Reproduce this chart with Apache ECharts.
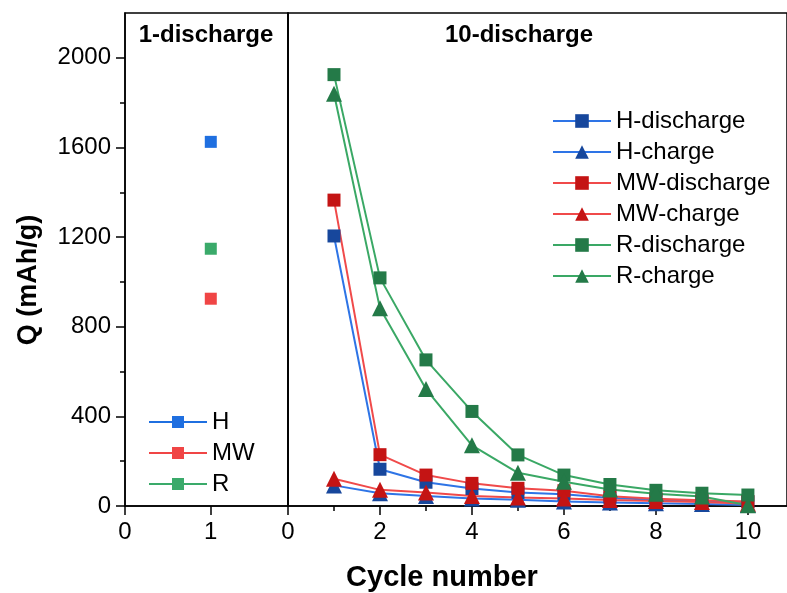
<!DOCTYPE html>
<html>
<head>
<meta charset="utf-8">
<script src="https://cdn.jsdelivr.net/npm/echarts@6/dist/echarts.min.js"></script>
<style>
  html, body { margin: 0; padding: 0; background: #fff; }
  #panel { width: 787px; height: 593px; }
</style>
</head>
<body>
<div id="panel"></div>
<script>
// first discharge (left panel), single point at cycle 1
var firstNames = ['H', 'MW', 'R'];
var firstValues = [1625, 925, 1148];

// 10 cycles (right panel)
var cycles = [1, 2, 3, 4, 5, 6, 7, 8, 9, 10];
var hDischarge  = [1205, 164, 106, 78, 60, 52, 36, 28, 20, 18];
var hCharge     = [92, 57, 45, 34, 28, 20, 16, 12, 9, 5];
var mwDischarge = [1365, 229, 138, 101, 79, 68, 44, 32, 26, 20];
var mwCharge    = [122, 72, 60, 45, 38, 33, 27, 22, 18, 10];
var rDischarge  = [1925, 1018, 652, 422, 228, 138, 96, 70, 57, 49];
var rCharge     = [1840, 882, 522, 271, 148, 108, 74, 55, 42, 3];

var yTicks = [0, 400, 800, 1200, 1600, 2000];
var yMinor = [200, 600, 1000, 1400, 1800];
var leftTicks = [0, 1];
var rightTicks = [0, 2, 4, 6, 8, 10];
var rightMinor = [1, 3, 5, 7, 9];

var FONT = 'Liberation Sans, Arial, sans-serif';

var dom = document.getElementById('panel');
var myChart = echarts.init(dom, null, { renderer: 'canvas' });

function pairs(xs, ys) {
    return xs.map(function (x, i) { return [x, ys[i]]; });
}

function plain(v) { return String(v); }

var lineAxis = { show: true, lineStyle: { color: '#000', width: 1.5 } };

var firstColors = ['#1f6fe0', '#f04545', '#3aaa6a'];

var series = firstNames.map(function (n, i) {
    return {
        name: n,
        type: 'line',
        xAxisIndex: 0,
        yAxisIndex: 0,
        symbol: 'rect',
        symbolSize: 12,
        data: [[1, firstValues[i]]],
        itemStyle: { color: firstColors[i] },
        lineStyle: { color: firstColors[i], width: 2 }
    };
});

function cycleSeries(name, data, lineColor, markColor, symbol, size) {
    return {
        name: name,
        type: 'line',
        xAxisIndex: 1,
        yAxisIndex: 2,
        symbol: symbol,
        symbolSize: size,
        data: pairs(cycles, data),
        itemStyle: { color: markColor },
        lineStyle: { color: lineColor, width: 2 }
    };
}

series.push(cycleSeries('H-discharge', hDischarge, '#2e74e6', '#17479c', 'rect', 13));
series.push(cycleSeries('H-charge', hCharge, '#2e74e6', '#17479c', 'triangle', 16));
series.push(cycleSeries('MW-discharge', mwDischarge, '#f04a4a', '#c41414', 'rect', 13));
series.push(cycleSeries('MW-charge', mwCharge, '#f04a4a', '#c41414', 'triangle', 16));
series.push(cycleSeries('R-discharge', rDischarge, '#3aa865', '#247a48', 'rect', 13));
series.push(cycleSeries('R-charge', rCharge, '#3aa865', '#247a48', 'triangle', 16));

var option = {
    animation: false,
    backgroundColor: '#fff',
    grid: [
        { left: 125, width: 163, top: 13, bottom: 87, show: true, borderColor: '#000', borderWidth: 1.5 },
        { left: 288, right: -3, top: 13, bottom: 87, show: true, borderColor: '#000', borderWidth: 1.5 }
    ],
    xAxis: [
        {
            gridIndex: 0, type: 'value', position: 'bottom', min: 0, max: 1.9,
            axisLine: lineAxis, splitLine: { show: false },
            axisTick: { show: true, customValues: leftTicks, length: 9, lineStyle: { color: '#000', width: 1.5 } },
            axisLabel: { customValues: leftTicks, margin: 14, color: '#000', fontSize: 24, fontFamily: FONT, formatter: plain }
        },
        {
            gridIndex: 1, type: 'value', position: 'bottom', min: 0, max: 10.85,
            axisLine: lineAxis, splitLine: { show: false },
            axisTick: { show: true, customValues: rightTicks, length: 9, lineStyle: { color: '#000', width: 1.5 } },
            axisLabel: { customValues: rightTicks, margin: 14, color: '#000', fontSize: 24, fontFamily: FONT, formatter: plain }
        },
        {
            // minor ticks on odd cycles
            gridIndex: 1, type: 'value', position: 'bottom', min: 0, max: 10.85,
            axisLine: { show: false }, splitLine: { show: false },
            axisTick: { show: true, customValues: rightMinor, length: 5, lineStyle: { color: '#000', width: 1.5 } },
            axisLabel: { show: false }
        }
    ],
    yAxis: [
        {
            gridIndex: 0, type: 'value', position: 'left', min: 0, max: 2200,
            axisLine: lineAxis, splitLine: { show: false },
            axisTick: { show: true, customValues: yTicks, length: 9, lineStyle: { color: '#000', width: 1.5 } },
            axisLabel: { customValues: yTicks, margin: 14, color: '#000', fontSize: 24, fontFamily: FONT, formatter: plain }
        },
        {
            gridIndex: 0, type: 'value', position: 'left', min: 0, max: 2200,
            axisLine: { show: false }, splitLine: { show: false },
            axisTick: { show: true, customValues: yMinor, length: 5, lineStyle: { color: '#000', width: 1.5 } },
            axisLabel: { show: false }
        },
        {
            gridIndex: 1, type: 'value', position: 'left', min: 0, max: 2200,
            axisLine: lineAxis, splitLine: { show: false },
            axisTick: { show: false },
            axisLabel: { show: false }
        }
    ],
    legend: [
        {
            data: firstNames,
            orient: 'vertical',
            left: 143,
            top: 405,
            itemWidth: 58,
            itemHeight: 15,
            itemGap: 7,
            textStyle: { color: '#000', fontSize: 24, fontFamily: FONT, lineHeight: 24 }
        },
        {
            data: ['H-discharge', 'H-charge', 'MW-discharge', 'MW-charge', 'R-discharge', 'R-charge'],
            orient: 'vertical',
            left: 547,
            top: 104,
            itemWidth: 58,
            itemHeight: 17,
            itemGap: 7,
            textStyle: { color: '#000', fontSize: 24, fontFamily: FONT, lineHeight: 24 }
        }
    ],
    graphic: [
        { type: 'text', x: 206, y: 35, style: { text: '1-discharge', font: 'bold 24px ' + FONT, fill: '#000', textAlign: 'center', textVerticalAlign: 'middle' } },
        { type: 'text', x: 519, y: 35, style: { text: '10-discharge', font: 'bold 24px ' + FONT, fill: '#000', textAlign: 'center', textVerticalAlign: 'middle' } },
        { type: 'text', x: 442, y: 578, style: { text: 'Cycle number', font: 'bold 29px ' + FONT, fill: '#000', textAlign: 'center', textVerticalAlign: 'middle' } },
        { type: 'text', x: 29, y: 280, rotation: Math.PI / 2, style: { text: 'Q (mAh/g)', font: 'bold 27px ' + FONT, fill: '#000', textAlign: 'center', textVerticalAlign: 'middle' } }
    ],
    series: series
};

if (option && typeof option === 'object') {
    myChart.setOption(option, true);
}
</script>
</body>
</html>
